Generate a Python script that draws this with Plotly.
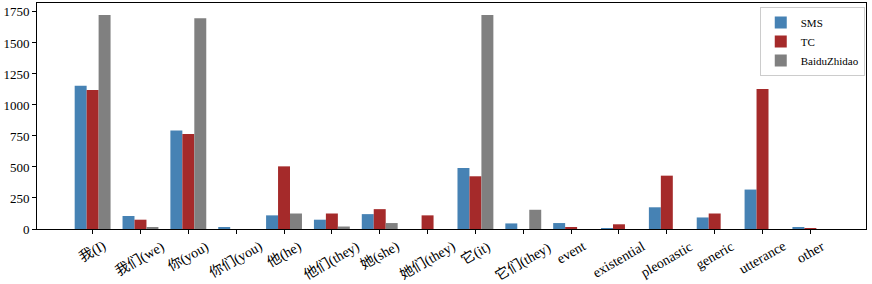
import plotly.graph_objects as go

categories = ["我(I)", "我们(we)", "你(you)", "你们(you)", "他(he)", "他们(they)", "她(she)",
              "她们(they)", "它(it)", "它们(they)", "event", "existential", "pleonastic",
              "generic", "utterance", "other"]
sms = [1155, 105, 795, 15, 110, 75, 120, 0, 492, 45, 48, 8, 175, 93, 318, 15]
tc = [1120, 75, 765, 0, 505, 125, 160, 110, 425, 0, 15, 38, 430, 125, 1128, 5]
baidu = [1725, 15, 1700, 0, 125, 20, 48, 0, 1725, 155, 0, 0, 0, 0, 0, 0]

series = [("SMS", sms, "#4682B4"), ("TC", tc, "#A52A2A"), ("BaiduZhidao", baidu, "#808080")]
xs = list(range(len(categories)))

FONT = "Liberation Serif, DejaVu Serif, Noto Sans CJK SC, serif"

fig = go.Figure()
for name, vals, color in series:
    fig.add_trace(go.Bar(x=xs, y=vals, name=name, marker=dict(color=color, line=dict(width=0))))

annotations = []
for i, c in enumerate(categories):
    annotations.append(dict(x=i, y=-0.03, xref="x", yref="paper", text=c, showarrow=False,
                            textangle=-30, xanchor="center", yanchor="top",
                            font=dict(family=FONT, size=14, color="black")))

fig.update_layout(
    width=872, height=284,
    margin=dict(l=37, r=6, t=3, b=55, autoexpand=False),
    barmode="group", bargap=0.25, bargroupgap=0,
    plot_bgcolor="white", paper_bgcolor="white",
    font=dict(family=FONT, size=13, color="black"),
    showlegend=True,
    legend=dict(x=0.9985, y=0.982, xanchor="right", yanchor="top",
                bgcolor="rgba(255,255,255,0.8)", bordercolor="#cccccc", borderwidth=1,
                font=dict(size=11), tracegroupgap=0, itemwidth=30),
    annotations=annotations,
)
fig.update_xaxes(range=[-1.1625, 16.1625], tickvals=xs, ticktext=[""] * len(xs),
                 ticks="outside", ticklen=4, tickcolor="black", showgrid=False, automargin=False,
                 showline=True, linecolor="black", linewidth=1, mirror=True, zeroline=False)
fig.update_yaxes(range=[0, 1822], tickvals=[0, 250, 500, 750, 1000, 1250, 1500, 1750],
                 ticks="outside", ticklen=4, tickcolor="black", showgrid=False, automargin=False,
                 showline=True, linecolor="black", linewidth=1, mirror=True, zeroline=False,
                 tickfont=dict(size=13))

fig.write_html("out.html", config={"displayModeBar": False},
               post_script="document.body.style.margin='0';document.body.style.overflow='hidden';")
